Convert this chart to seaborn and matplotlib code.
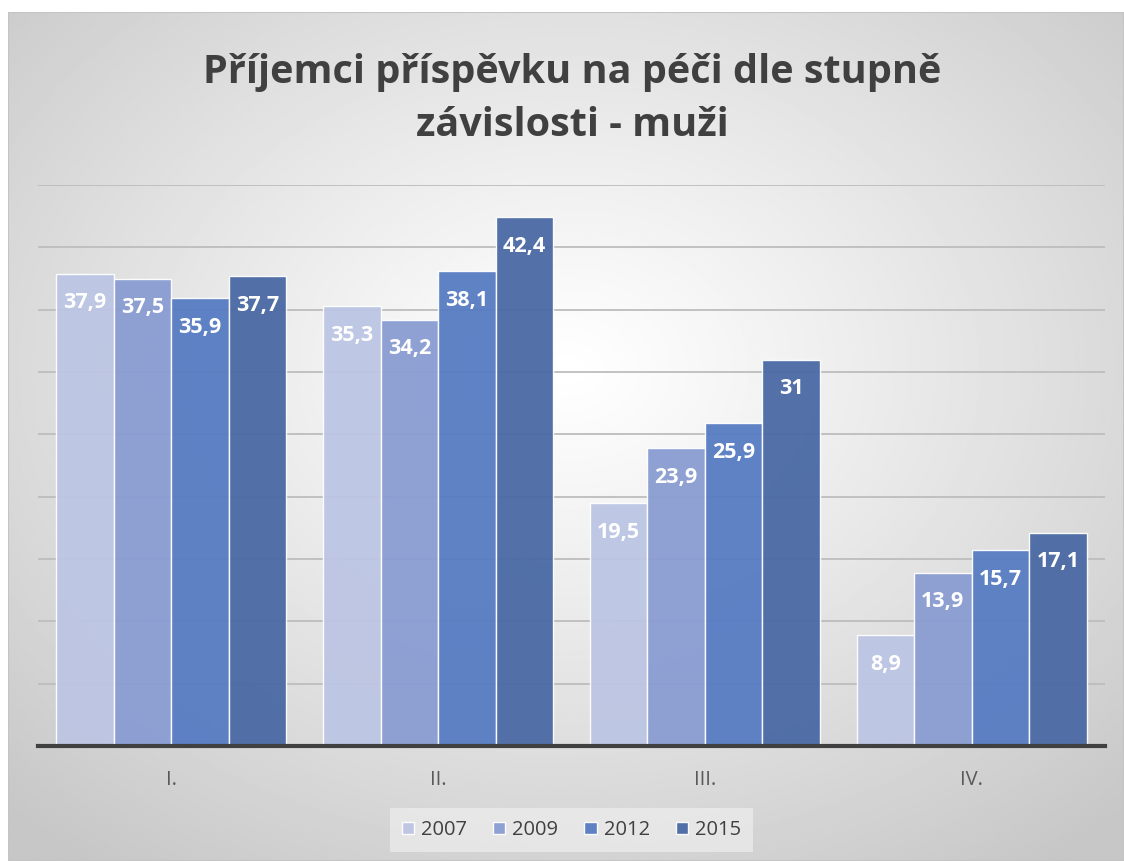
import numpy as np
import pandas as pd
import seaborn as sns
import matplotlib.pyplot as plt
from matplotlib.patches import Rectangle

categories = ["I.", "II.", "III.", "IV."]
years = ["2007", "2009", "2012", "2015"]
v2007 = [37.9, 35.3, 19.5, 8.9]
v2009 = [37.5, 34.2, 23.9, 13.9]
v2012 = [35.9, 38.1, 25.9, 15.7]
v2015 = [37.7, 42.4, 31.0, 17.1]
colors = ["#BCC5E3", "#8A9DD2", "#567CC2", "#4A69A4"]

rows = []
for year, vals in zip(years, [v2007, v2009, v2012, v2015]):
    for cat, v in zip(categories, vals):
        rows.append({"stupen": cat, "rok": year, "hodnota": v})
df = pd.DataFrame(rows)

sns.set_style("white")
plt.rcParams["font.family"] = ["Open Sans", "DejaVu Sans"]

W, H = 1124, 861
fig = plt.figure(figsize=(W / 100, H / 100), dpi=100)
fig.patch.set_facecolor("white")

# radial grey gradient behind the chart
bg = fig.add_axes([8 / W, 0, 1 - 8 / W, 1 - 12 / H])
bg.set_axis_off()
yy, xx = np.mgrid[0:400, 0:520]
cx, cy = 0.5 * 520, 0.42 * 400
r = np.sqrt(((xx - cx) / 520) ** 2 + ((yy - cy) / 400) ** 2)
shade = 1.0 - np.clip(r / 0.72, 0, 1) ** 1.1 * 0.22
bg.imshow(shade, cmap="gray", vmin=0, vmax=1, aspect="auto",
          extent=[0, 1, 0, 1], origin="upper", interpolation="bilinear")
bg.set_xlim(0, 1)
bg.set_ylim(0, 1)
bg.add_patch(Rectangle((0, 0), 1, 1, fill=False, edgecolor="#c4c4c4",
                       linewidth=1.5, transform=bg.transAxes))

ax = fig.add_axes([38 / W, 1 - 746 / H, (1105 - 38) / W, (746 - 185) / H])
ax.patch.set_alpha(0)

sns.barplot(data=df, x="stupen", y="hodnota", hue="rok", palette=colors,
            saturation=1, width=0.862, gap=0, ax=ax, legend=True, zorder=3)

for p in ax.patches:
    p.set_alpha(0.95)
    p.set_edgecolor((1, 1, 1, 0.55))
    p.set_linewidth(1.0)

for cont in ax.containers:
    labels = [f"{v:g}".replace(".", ",") for v in cont.datavalues]
    for bar, lab in zip(cont, labels):
        ax.annotate(lab, (bar.get_x() + bar.get_width() / 2, bar.get_height()),
                    xytext=(0, -21), textcoords="offset points",
                    ha="center", va="center", color="white",
                    fontsize=15.5, fontweight="bold", zorder=5)

ax.set_ylim(0, 45)
ax.set_xlim(-0.5, 3.5)
ax.set_yticks(np.arange(0, 46, 5))
ax.set_yticklabels([])
ax.yaxis.grid(True, color="#bdbdbd", linewidth=1.3, zorder=0)
ax.set_axisbelow(True)
ax.tick_params(axis="both", length=0)
ax.tick_params(axis="x", labelsize=14.5, labelcolor="#595959", pad=17)
ax.set_xlabel("")
ax.set_ylabel("")
for s in ["top", "right", "left"]:
    ax.spines[s].set_visible(False)
ax.spines["bottom"].set_color("#404040")
ax.spines["bottom"].set_linewidth(3)
ax.spines["bottom"].set_zorder(6)

leg = ax.legend(loc="center", bbox_to_anchor=(0.5, (746 - 830) / (746 - 185)),
                ncol=4, frameon=True, fontsize=14.5, handlelength=0.6,
                handleheight=0.6, handletextpad=0.35, columnspacing=1.3,
                borderpad=0.6)
leg.get_frame().set_facecolor("#f2f2f2")
leg.get_frame().set_alpha(0.6)
leg.get_frame().set_edgecolor("none")
leg.get_frame().set_boxstyle("square", pad=0)
for t in leg.get_texts():
    t.set_color("#404040")

fig.text(572 / W, 1 - 99 / H, "Příjemci příspěvku na péči dle stupně\nzávislosti - muži",
         ha="center", va="center", fontsize=28.5, fontweight="bold",
         color="#404040", linespacing=1.5)

fig.savefig("out.png", dpi=100)
